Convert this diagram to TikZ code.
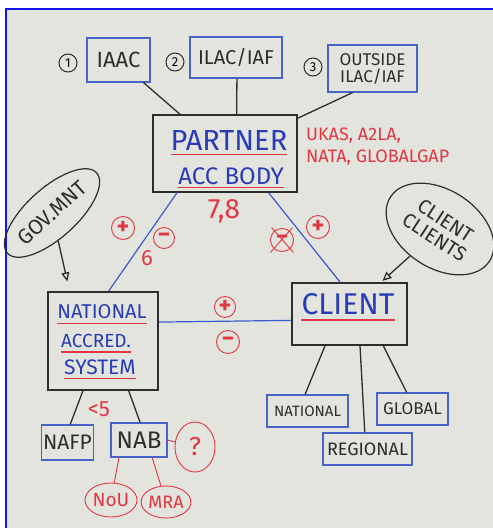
\documentclass[tikz,border=0pt]{standalone}
\usepackage{fontspec}
\setmainfont{Fira Sans}
\usetikzlibrary{calc,arrows.meta,shapes.geometric}
\definecolor{paper}{RGB}{228,228,222}
\definecolor{frameblue}{RGB}{20,20,240}
\definecolor{mblue}{RGB}{40,60,185}
\definecolor{boxblue}{RGB}{70,100,200}
\definecolor{lineblue}{RGB}{60,90,210}
\definecolor{mred}{RGB}{225,55,65}
\definecolor{ink}{RGB}{45,45,45}
\newcommand{\fs}[1]{\fontsize{#1}{#1}\selectfont}
\begin{document}
\begin{tikzpicture}[x=1pt,y=-1pt,
  bbox/.style={draw=boxblue, line width=1.1pt, text=ink, inner sep=2pt, font=\fs{17}},
  kbox/.style={draw=ink, line width=1.6pt},
  link/.style={draw=ink, line width=1.3pt},
  blink/.style={draw=lineblue, line width=1.2pt},
  rlink/.style={draw=mred, line width=0.9pt},
  pm/.style={circle, draw=mred, text=mred, line width=0.9pt, minimum size=23pt, inner sep=0pt, font=\fs{24}\bfseries},
  num/.style={circle, draw=ink, line width=1pt, minimum size=18pt, inner sep=0pt, font=\fs{13}},
  uline/.style={draw=mred, line width=1.3pt},
  bt/.style={text=mblue, inner sep=0pt},
  rt/.style={text=mred, inner sep=0pt},
  rell/.style={ellipse, draw=mred, text=mred, line width=0.9pt, inner sep=0pt, font=\fs{18}},
  oarrow/.style={-{Triangle[open,length=9pt,width=8pt]}}
]
\useasboundingbox (0,0) rectangle (493,528);
\fill[white] (0,0) rectangle (493,528);
\fill[paper] (6,9) rectangle (493,528);
\draw[frameblue, line width=2pt] (6,528) -- (6,9) -- (493,9);

% top row
\node[num] (n1) at (68,63) {1};
\node[bbox, minimum width=63pt, minimum height=44pt, font=\fs{22}] (iaac) at (118.5,60) {IAAC};
\node[num] (n2) at (175,62) {2};
\node[bbox, minimum width=92pt, minimum height=41pt, font=\fs{20}] (ilac) at (236,57.5) {ILAC/IAF};
\node[num] (n3) at (313,67) {3};
\node[bbox, minimum width=89pt, minimum height=47pt, align=center, font=\fs{17}] (outside) at (372.5,68.5) {OUTSIDE\\ILAC/IAF};

% partner
\node[kbox, minimum width=144pt, minimum height=77pt] (partner) at (225,153.5) {};
\node[bt, font=\fs{29}] (pt1) at (229,141) {PARTNER};
\node[bt, font=\fs{24}] (pt2) at (231,176) {ACC BODY};
\draw[uline] ([yshift=-3pt]pt1.south west) -- ([yshift=-3pt]pt1.south east);
\draw[uline] ([yshift=-3pt]pt2.south west) -- ([yshift=-3pt]pt2.south east);

\draw[link] ($(iaac.south west)!0.89!(iaac.south east)$) -- ($(partner.north west)!0.19!(partner.north east)$);
\draw[link] ($(ilac.south west)!0.51!(ilac.south east)$) -- ($(partner.north west)!0.58!(partner.north east)$);
\draw[link] ($(outside.south west)!0.28!(outside.south east)$) -- ([yshift=-4pt]partner.north east);

\node[rt, align=left, anchor=west, font=\fs{18}] (ukas) at (306,147) {UKAS, A2LA,\\[4pt]NATA, GLOBALGAP};
\node[rt, font=\fs{28}] (n78) at (224,211) {7,8};

% national
\node[kbox, minimum width=110pt, minimum height=98pt] (national) at (103,341) {};
\node[bt, font=\fs{20}] (nt1) at (102,312) {NATIONAL};
\node[bt, font=\fs{19}] (nt2) at (96,341) {ACCRED.};
\node[bt, font=\fs{21}] (nt3) at (100,367) {SYSTEM};
\draw[uline] ([yshift=-4pt]nt1.south west) -- ([yshift=-4pt]nt1.south east);
\draw[uline] ([yshift=-4pt]nt2.south west) -- ([yshift=-4pt]nt2.south east);
\draw[uline] ([yshift=-4pt]nt3.south west) -- ([yshift=-4pt]nt3.south east);

% client
\node[kbox, minimum width=115pt, minimum height=62pt] (client) at (349.5,314) {};
\node[bt, font=\fs{30}] (ct) at (348,304) {CLIENT};
\draw[uline] ([yshift=-5pt]ct.south west) -- ([yshift=-5pt]ct.south east);

% blue links
\draw[blink] ($(partner.south west)!0.17!(partner.south east)$) -- ($(national.north west)!0.55!(national.north east)$);
\draw[blink] ($(partner.south west)!0.8!(partner.south east)$) -- ($(client.north west)!0.42!(client.north east)$);
\draw[blink] ($(national.north east)!0.31!(national.south east)$) -- ($(client.north west)!0.6!(client.south west)$);

% plus / minus
\node[pm] (p1) at (123,228) {+};
\node[pm, minimum size=21pt] (m1) at (164,238) {−};
\node[rt, font=\fs{22}] (six) at (147,258) {6};
\node[pm] (m2) at (282,240) {−};
\draw[rlink] ($(m2.north west)+(-2,-4)$) -- ($(m2.south east)+(3,4)$);
\draw[rlink] ($(m2.north east)+(2,-4)$) -- ($(m2.south west)+(-3,4)$);
\node[pm] (p2) at (318,227) {+};
\node[pm, minimum size=21pt] (p3) at (225,307) {+};
\node[pm] (m3) at (228,342) {−};

% ellipses
\node[ellipse, draw=ink, line width=1.2pt, rotate=42, minimum width=118pt, minimum height=50pt, inner sep=0pt, font=\fs{21}, text=ink] (gov) at (52,213) {GOV.MNT};
\draw[link, oarrow, shorten >=10pt] (gov) -- ($(national.north west)!0.2!(national.north east)$);
\node[ellipse, draw=ink, line width=1.2pt, rotate=-33, minimum width=118pt, minimum height=78pt, inner sep=0pt, align=center, font=\fs{20}, text=ink] (cl) at (440,229) {CLIENT\\CLIENTS};
\draw[link, oarrow, shorten >=2pt] (cl) -- ($(client.north west)!0.77!(client.north east)$);

% national subs
\node[bbox, minimum width=51pt, minimum height=35pt, font=\fs{21}] (nafp) at (67.5,442.5) {NAFP};
\node[bbox, minimum width=56pt, minimum height=34pt, font=\fs{24}] (nab) at (139,440) {NAB};
\draw[link] ($(national.south west)!0.32!(national.south east)$) -- ($(nafp.north west)!0.55!(nafp.north east)$);
\draw[link] ($(national.south west)!0.73!(national.south east)$) -- ($(nab.north west)!0.52!(nab.north east)$);
\node[rt, font=\fs{22}] (lt5) at (99,409) {<5};
\node[rell, minimum width=40pt, minimum height=50pt, font=\fs{26}] (q) at (195,447) {?};
\node[rell, minimum width=52pt, minimum height=34pt, font=\fs{19}] (nou) at (111,500) {NoU};
\node[rell, minimum width=46pt, minimum height=32pt] (mra) at (166,502) {MRA};
\draw[rlink] (nab.east) -- (q);
\draw[rlink] ($(nab.south west)!0.15!(nab.south east)$) -- (nou);
\draw[rlink] ($(nab.south west)!0.73!(nab.south east)$) -- (mra);

% client subs
\node[bbox, minimum width=81pt, minimum height=32pt, font=\fs{15}] (cnat) at (307.5,411) {NATIONAL};
\node[bbox, minimum width=71pt, minimum height=32pt, font=\fs{17}] (glob) at (412.5,409) {GLOBAL};
\node[bbox, minimum width=89pt, minimum height=32pt, font=\fs{18}] (reg) at (367.5,449) {REGIONAL};
\draw[link] ($(client.south west)!0.29!(client.south east)$) -- ($(cnat.north west)!0.47!(cnat.north east)$);
\draw[link] ($(client.south west)!0.59!(client.south east)$) -- ($(reg.north west)!0.47!(reg.north east)$);
\draw[link] ($(client.south west)!0.79!(client.south east)$) -- ($(glob.north west)!0.42!(glob.north east)$);
\end{tikzpicture}
\end{document}
